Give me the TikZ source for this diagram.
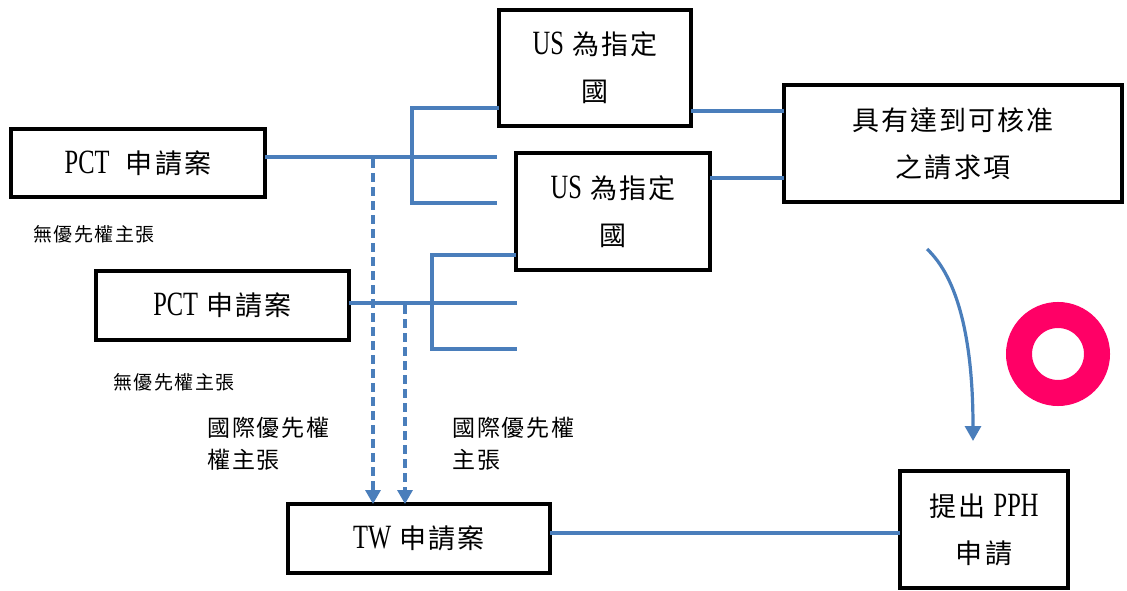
\documentclass[tikz,border=0pt]{standalone}
\usepackage{fontspec}
\setmainfont{Noto Sans CJK TC}[LetterSpace=8]
\newfontfamily\latf{Liberation Serif}[FakeStretch=0.72]
\usetikzlibrary{arrows.meta}
\definecolor{lnblue}{HTML}{4A7EBB}
\definecolor{ringred}{HTML}{FF0066}
\newcommand\LT[1]{{\latf\fontsize{34}{47}\selectfont #1}}
\begin{document}
\begin{tikzpicture}[x=1pt,y=-1pt,
  box/.style={draw=black, line width=4pt, inner sep=0pt, outer sep=0pt, align=center, font=\fontsize{27}{47}\selectfont},
  conn/.style={draw=lnblue, line width=3.2pt},
  dashconn/.style={conn, dash pattern=on 9pt off 5pt, -{Triangle[width=15pt,length=14pt]}},
  arrconn/.style={conn, -{Triangle[width=16pt,length=15pt]}},
  lbl/.style={inner sep=0pt, align=left, anchor=west, font=\fontsize{23}{32}\selectfont},
  slbl/.style={inner sep=0pt, anchor=west, font=\fontsize{19}{22}\selectfont}]
\useasboundingbox (0,0) rectangle (1127,591);

% boxes
\node[box, minimum width=254pt, minimum height=68pt] (pct1) at (138,163) {\LT{PCT}\ \ 申請案};
\node[box, minimum width=253pt, minimum height=69pt] (pct2) at (222.5,305.5) {\LT{PCT} 申請案};
\node[box, minimum width=192pt, minimum height=116pt] (us1) at (595,68) {\LT{US} 為指定\\國};
\node[box, minimum width=194pt, minimum height=117pt] (us2) at (613,211.5) {\LT{US} 為指定\\國};
\node[box, minimum width=337.5pt, minimum height=117pt] (claim) at (953,143.5) {具有達到可核准\\之請求項};
\node[box, minimum width=262pt, minimum height=69pt] (tw) at (419,538.5) {\LT{TW} 申請案};
\node[box, minimum width=168pt, minimum height=117pt] (pph) at (984,529.5) {提出 \LT{PPH}\\申請};

% labels
\node[slbl] (n1) at (33,234) {無優先權主張};
\node[slbl] (n2) at (113,382) {無優先權主張};
\node[lbl] (l1) at (207,444) {國際優先權\\權主張};
\node[lbl] (l2) at (452,444) {國際優先權\\主張};

% coordinates
\coordinate (j1) at (497,157);
\coordinate (b1t) at (412,108);
\coordinate (b1b) at (412,203);
\coordinate (b1e) at (497,203);
\coordinate (j2) at (517,303);
\coordinate (b2t) at (432,255);
\coordinate (b2b) at (432,349);
\coordinate (b2e) at (517,349);
\coordinate (d1) at (373,159);
\coordinate (d2) at (405,305);
\coordinate (k1) at (0,111);
\coordinate (k2) at (0,178);
\coordinate (k3) at (0,533);
\coordinate (cs) at (927,249);
\coordinate (ce) at (973,441);

% connectors
\draw[conn] (pct1.east |- j1) -- (j1);
\draw[conn] (b1t -| us1.west) -- (b1t) -- (b1b) -- (b1e);
\draw[conn] (pct2.east |- j2) -- (j2);
\draw[conn] (b2t -| us2.west) -- (b2t) -- (b2b) -- (b2e);
\draw[dashconn] (d1) -- (d1 |- tw.north);
\draw[dashconn] (d2) -- (d2 |- tw.north);
\draw[conn] (us1.east |- k1) -- (claim.west |- k1);
\draw[conn] (us2.east |- k2) -- (claim.west |- k2);
\draw[conn] (tw.east |- k3) -- (pph.west |- k3);
\draw[arrconn] (cs) .. controls (958,278) and (973,340) .. (ce);

% ring
\draw[ringred, line width=26pt] (1058,354) circle[radius=39pt];
\end{tikzpicture}
\end{document}
